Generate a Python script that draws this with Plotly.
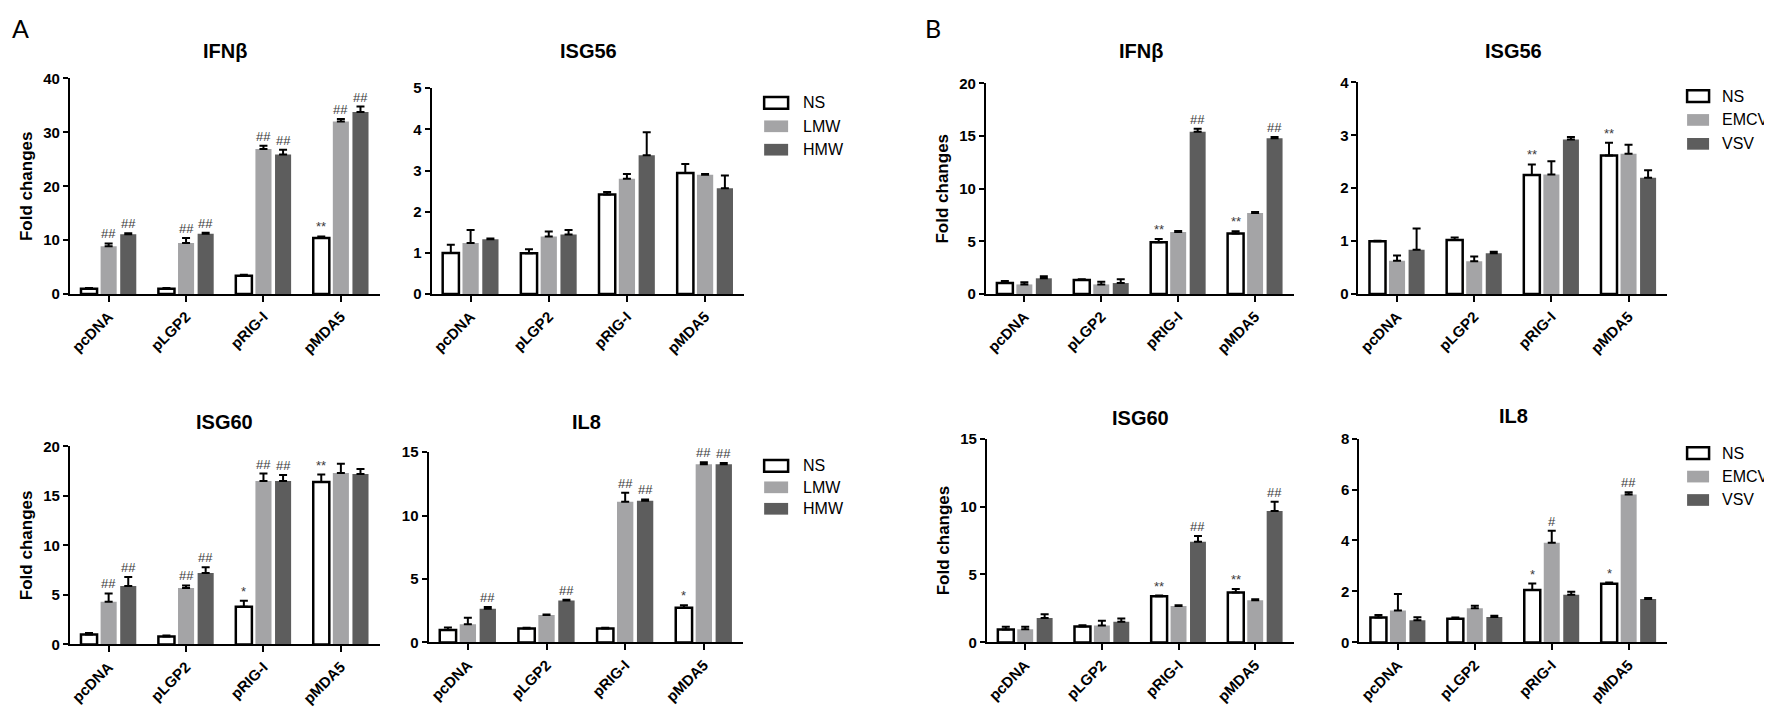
import plotly.graph_objects as go

# The page body adds an 8 px margin around the figure, so the figure is drawn
# 8 px smaller and all reference pixel positions are shifted by that margin.
PAGE_W, PAGE_H = 1772, 709
BODY_MARGIN = 8
W, H = PAGE_W - BODY_MARGIN, PAGE_H - BODY_MARGIN

categories = ["pcDNA", "pLGP2", "pRIG-I", "pMDA5"]
series_A = ["NS", "LMW", "HMW"]
series_B = ["NS", "EMCV", "VSV"]

# ---------------- Panel A ----------------
# IFNβ
a_ifnb_ns = [1.0, 1.0, 3.4, 10.4]
a_ifnb_ns_err = [0.15, 0.15, 0.2, 0.3]
a_ifnb_lmw = [8.9, 9.5, 26.9, 32.0]
a_ifnb_lmw_err = [0.5, 0.9, 0.6, 0.5]
a_ifnb_hmw = [11.1, 11.2, 25.9, 33.8]
a_ifnb_hmw_err = [0.2, 0.2, 0.9, 1.0]
a_ifnb_marks_ns = ["", "", "", "**"]
a_ifnb_marks_lmw = ["##", "##", "##", "##"]
a_ifnb_marks_hmw = ["##", "##", "##", "##"]

# ISG56
a_isg56_ns = [1.0, 0.99, 2.42, 2.94]
a_isg56_ns_err = [0.2, 0.1, 0.06, 0.22]
a_isg56_lmw = [1.24, 1.4, 2.8, 2.9]
a_isg56_lmw_err = [0.32, 0.12, 0.12, 0.02]
a_isg56_hmw = [1.33, 1.45, 3.37, 2.57]
a_isg56_hmw_err = [0.02, 0.11, 0.56, 0.31]
a_isg56_marks_ns = ["", "", "", ""]
a_isg56_marks_lmw = ["", "", "", ""]
a_isg56_marks_hmw = ["", "", "", ""]

# ISG60
a_isg60_ns = [1.0, 0.8, 3.8, 16.4]
a_isg60_ns_err = [0.15, 0.1, 0.6, 0.75]
a_isg60_lmw = [4.3, 5.7, 16.5, 17.3]
a_isg60_lmw_err = [0.85, 0.25, 0.75, 0.95]
a_isg60_hmw = [5.9, 7.2, 16.5, 17.2]
a_isg60_hmw_err = [0.9, 0.6, 0.6, 0.5]
a_isg60_marks_ns = ["", "", "*", "**"]
a_isg60_marks_lmw = ["##", "##", "##", ""]
a_isg60_marks_hmw = ["##", "##", "##", ""]

# IL8
a_il8_ns = [0.98, 1.1, 1.1, 2.73]
a_il8_ns_err = [0.2, 0.05, 0.05, 0.2]
a_il8_lmw = [1.44, 2.16, 11.1, 14.05]
a_il8_lmw_err = [0.5, 0.05, 0.7, 0.15]
a_il8_hmw = [2.65, 3.3, 11.17, 14.05]
a_il8_hmw_err = [0.15, 0.07, 0.1, 0.1]
a_il8_marks_ns = ["", "", "", "*"]
a_il8_marks_lmw = ["", "", "##", "##"]
a_il8_marks_hmw = ["##", "##", "##", "##"]

# ---------------- Panel B ----------------
# IFNβ
b_ifnb_ns = [1.05, 1.35, 4.93, 5.76]
b_ifnb_ns_err = [0.2, 0.05, 0.3, 0.2]
b_ifnb_emcv = [0.92, 0.92, 5.9, 7.7]
b_ifnb_emcv_err = [0.2, 0.25, 0.1, 0.1]
b_ifnb_vsv = [1.5, 1.05, 15.4, 14.8]
b_ifnb_vsv_err = [0.2, 0.35, 0.3, 0.12]
b_ifnb_marks_ns = ["", "", "**", "**"]
b_ifnb_marks_emcv = ["", "", "", ""]
b_ifnb_marks_vsv = ["", "", "##", "##"]

# ISG56
b_isg56_ns = [1.0, 1.02, 2.25, 2.62]
b_isg56_ns_err = [0.01, 0.05, 0.2, 0.24]
b_isg56_emcv = [0.63, 0.62, 2.26, 2.65]
b_isg56_emcv_err = [0.1, 0.09, 0.25, 0.17]
b_isg56_vsv = [0.84, 0.77, 2.92, 2.2]
b_isg56_vsv_err = [0.4, 0.03, 0.05, 0.14]
b_isg56_marks_ns = ["", "", "**", "**"]
b_isg56_marks_emcv = ["", "", "", ""]
b_isg56_marks_vsv = ["", "", "", ""]

# ISG60
b_isg60_ns = [0.96, 1.17, 3.4, 3.68]
b_isg60_ns_err = [0.2, 0.1, 0.05, 0.26]
b_isg60_emcv = [0.98, 1.24, 2.68, 3.1]
b_isg60_emcv_err = [0.17, 0.36, 0.05, 0.07]
b_isg60_vsv = [1.8, 1.53, 7.4, 9.67]
b_isg60_vsv_err = [0.28, 0.24, 0.43, 0.67]
b_isg60_marks_ns = ["", "", "**", "**"]
b_isg60_marks_emcv = ["", "", "", ""]
b_isg60_marks_vsv = ["", "", "##", "##"]

# IL8
b_il8_ns = [0.98, 0.93, 2.06, 2.3]
b_il8_ns_err = [0.1, 0.05, 0.25, 0.05]
b_il8_emcv = [1.25, 1.34, 3.91, 5.8]
b_il8_emcv_err = [0.65, 0.1, 0.47, 0.09]
b_il8_vsv = [0.87, 1.0, 1.87, 1.7]
b_il8_vsv_err = [0.12, 0.05, 0.12, 0.04]
b_il8_marks_ns = ["", "", "*", "*"]
b_il8_marks_emcv = ["", "", "#", "##"]
b_il8_marks_vsv = ["", "", "", ""]

# ---------------- styling / layout constants ----------------
FILLS = ["white", "#a4a4a6", "#5d5d5d"]
EDGES = ["black", "#a4a4a6", "#5d5d5d"]
EDGE_W = [2.5, 0, 0]
BARGAP = 0.24
BARGROUPGAP = 0.18
FONT = "Liberation Sans"


def px_x(x):
    return (x - BODY_MARGIN) / W


def px_y(y):
    return 1 - (y - BODY_MARGIN) / H


panels = [
    dict(title="IFNβ", series=series_A,
         vals=[a_ifnb_ns, a_ifnb_lmw, a_ifnb_hmw],
         errs=[a_ifnb_ns_err, a_ifnb_lmw_err, a_ifnb_hmw_err],
         marks=[a_ifnb_marks_ns, a_ifnb_marks_lmw, a_ifnb_marks_hmw],
         ymax=40, dtick=10, box=(68, 378, 71, 292), tpos=(223, 43), ylab=True, legend=None),
    dict(title="ISG56", series=series_A,
         vals=[a_isg56_ns, a_isg56_lmw, a_isg56_hmw],
         errs=[a_isg56_ns_err, a_isg56_lmw_err, a_isg56_hmw_err],
         marks=[a_isg56_marks_ns, a_isg56_marks_lmw, a_isg56_marks_hmw],
         ymax=5, dtick=1, box=(430, 743, 81, 292), tpos=(587, 43), ylab=False,
         legend=(763, 787, 96, 24, 800)),
    dict(title="ISG60", series=series_A,
         vals=[a_isg60_ns, a_isg60_lmw, a_isg60_hmw],
         errs=[a_isg60_ns_err, a_isg60_lmw_err, a_isg60_hmw_err],
         marks=[a_isg60_marks_ns, a_isg60_marks_lmw, a_isg60_marks_hmw],
         ymax=20, dtick=5, box=(68, 378, 448, 651), tpos=(223, 423), ylab=True, legend=None),
    dict(title="IL8", series=series_A,
         vals=[a_il8_ns, a_il8_lmw, a_il8_hmw],
         errs=[a_il8_ns_err, a_il8_lmw_err, a_il8_hmw_err],
         marks=[a_il8_marks_ns, a_il8_marks_lmw, a_il8_marks_hmw],
         ymax=15, dtick=5, box=(427, 742, 454, 649), tpos=(585, 423), ylab=False,
         legend=(763, 787, 468, 22, 800)),
    dict(title="IFNβ", series=series_B,
         vals=[b_ifnb_ns, b_ifnb_emcv, b_ifnb_vsv],
         errs=[b_ifnb_ns_err, b_ifnb_emcv_err, b_ifnb_vsv_err],
         marks=[b_ifnb_marks_ns, b_ifnb_marks_emcv, b_ifnb_marks_vsv],
         ymax=20, dtick=5, box=(985, 1293, 76, 292), tpos=(1140, 43), ylab=True, legend=None),
    dict(title="ISG56", series=series_B,
         vals=[b_isg56_ns, b_isg56_emcv, b_isg56_vsv],
         errs=[b_isg56_ns_err, b_isg56_emcv_err, b_isg56_vsv_err],
         marks=[b_isg56_marks_ns, b_isg56_marks_emcv, b_isg56_marks_vsv],
         ymax=4, dtick=1, box=(1358, 1667, 75, 292), tpos=(1513, 43), ylab=False,
         legend=(1687, 1709, 89, 24.5, 1720)),
    dict(title="ISG60", series=series_B,
         vals=[b_isg60_ns, b_isg60_emcv, b_isg60_vsv],
         errs=[b_isg60_ns_err, b_isg60_emcv_err, b_isg60_vsv_err],
         marks=[b_isg60_marks_ns, b_isg60_marks_emcv, b_isg60_marks_vsv],
         ymax=15, dtick=5, box=(986, 1293, 440, 649), tpos=(1140, 419), ylab=True, legend=None),
    dict(title="IL8", series=series_B,
         vals=[b_il8_ns, b_il8_emcv, b_il8_vsv],
         errs=[b_il8_ns_err, b_il8_emcv_err, b_il8_vsv_err],
         marks=[b_il8_marks_ns, b_il8_marks_emcv, b_il8_marks_vsv],
         ymax=8, dtick=2, box=(1359, 1667, 440, 649), tpos=(1513, 417), ylab=False,
         legend=(1687, 1709, 455, 24, 1720)),
]

fig = go.Figure()
annotations = []
shapes = []
layout_axes = {}
slot = (1 - BARGAP) / 3

for i, p in enumerate(panels):
    k = i + 1
    xa = "x" if k == 1 else f"x{k}"
    ya = "y" if k == 1 else f"y{k}"
    xname = "xaxis" if k == 1 else f"xaxis{k}"
    yname = "yaxis" if k == 1 else f"yaxis{k}"
    for j in range(3):
        fig.add_trace(go.Bar(
            x=categories, y=p["vals"][j], name=p["series"][j],
            xaxis=xa, yaxis=ya, showlegend=False,
            marker=dict(color=FILLS[j], line=dict(color=EDGES[j], width=EDGE_W[j])),
            error_y=dict(type="data", array=p["errs"][j], arrayminus=[0] * 4,
                         symmetric=False, color="black", thickness=2, width=4),
        ))
        for c in range(4):
            m = p["marks"][j][c]
            if m:
                annotations.append(dict(
                    x=c + (j - 1) * slot, y=p["vals"][j][c] + p["errs"][j][c],
                    xref=xa, yref=ya, text=m, showarrow=False,
                    yanchor="bottom", yshift=0,
                    font=dict(family=FONT, size=13, color="#3a3a3a"),
                ))
    x0, x1, y0, y1 = p["box"]
    layout_axes[xname] = dict(
        domain=[px_x(x0), px_x(x1)], anchor=ya, type="category",
        range=[-0.5, 3.5], showline=True, linecolor="black", linewidth=2,
        ticks="outside", ticklen=6, tickwidth=2, tickcolor="black",
        tickangle=-45, tickfont=dict(family=FONT, size=15, color="black", weight="bold"),
        showgrid=False, zeroline=False, fixedrange=True,
    )
    layout_axes[yname] = dict(
        domain=[px_y(y1), px_y(y0)], anchor=xa,
        range=[0, p["ymax"]], dtick=p["dtick"], tick0=0,
        showline=True, linecolor="black", linewidth=2,
        ticks="outside", ticklen=5, tickwidth=2, tickcolor="black",
        tickfont=dict(family=FONT, size=15, color="black", weight="bold"),
        showgrid=False, zeroline=False, fixedrange=True,
        title=dict(text="Fold changes" if p["ylab"] else "", standoff=6,
                   font=dict(family=FONT, size=17, color="black", weight="bold")),
    )
    tx, ty = p["tpos"]
    annotations.append(dict(
        x=px_x(tx), y=px_y(ty), xref="paper", yref="paper", text=p["title"],
        showarrow=False, xanchor="center", yanchor="middle",
        font=dict(family=FONT, size=20, color="black", weight="bold"),
    ))
    if p["legend"]:
        bx0, bx1, cy, step, tx0 = p["legend"]
        for j, nm in enumerate(p["series"]):
            yc = cy + j * step
            shapes.append(dict(
                type="rect", xref="paper", yref="paper",
                x0=px_x(bx0), x1=px_x(bx1), y0=px_y(yc + 6), y1=px_y(yc - 6),
                fillcolor=FILLS[j], line=dict(color=EDGES[j] if j == 0 else FILLS[j], width=2.5 if j == 0 else 0),
            ))
            annotations.append(dict(
                x=px_x(tx0), y=px_y(yc), xref="paper", yref="paper", text=nm,
                showarrow=False, xanchor="left", yanchor="middle",
                font=dict(family=FONT, size=16, color="black"),
            ))

# panel letters (left edge positions)
for letter, lx, ly in [("A", 8, 19), ("B", 922, 19)]:
    annotations.append(dict(
        x=px_x(lx), y=px_y(ly), xref="paper", yref="paper", text=letter,
        showarrow=False, xanchor="left", yanchor="middle",
        font=dict(family="Lato", size=25, color="black"),
    ))

fig.update_layout(
    width=W, height=H, margin=dict(l=0, r=0, t=0, b=0),
    paper_bgcolor="white", plot_bgcolor="white",
    barmode="group", bargap=BARGAP, bargroupgap=BARGROUPGAP,
    annotations=annotations, shapes=shapes, showlegend=False,
    **layout_axes,
)

fig.write_html("out.html")
